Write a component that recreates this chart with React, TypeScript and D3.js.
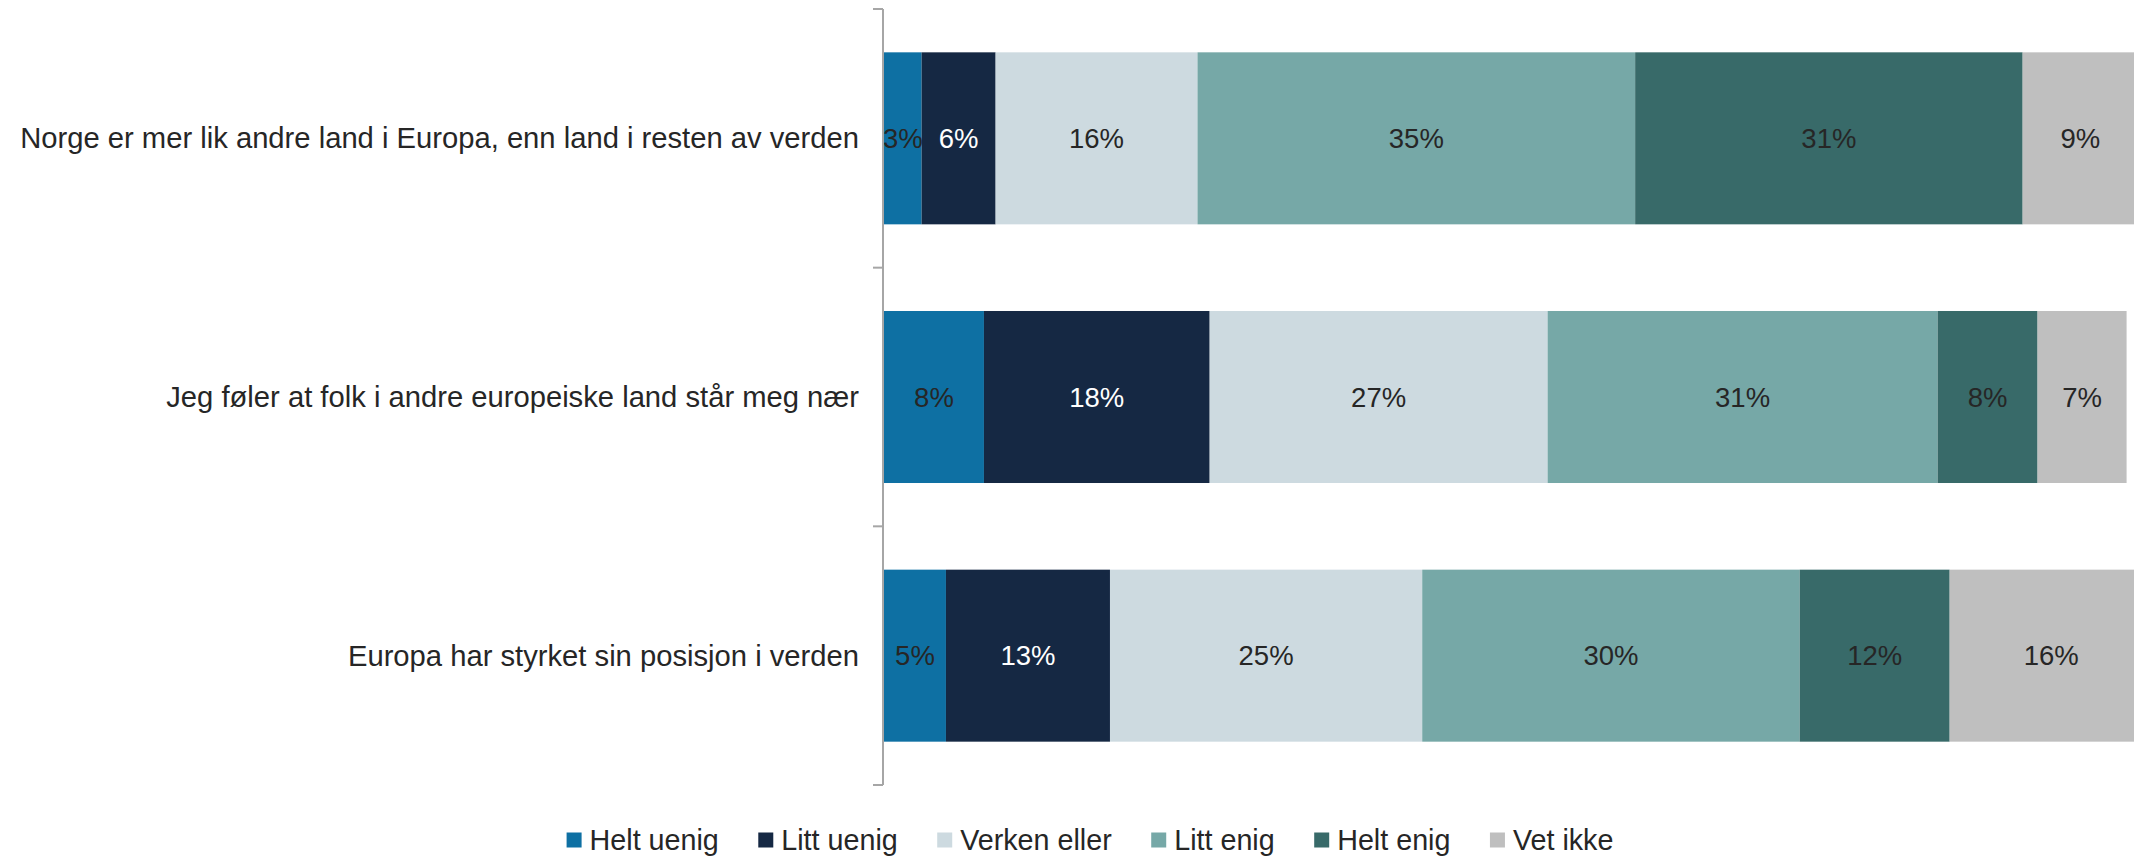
import React, { useEffect, useRef } from "react";
import * as d3 from "d3";

const categories = [
  "Norge er mer lik andre land i Europa, enn land i resten av verden",
  "Jeg føler at folk i andre europeiske land står meg nær",
  "Europa har styrket sin posisjon i verden",
];
const seriesNames = ["Helt uenig", "Litt uenig", "Verken eller", "Litt enig", "Helt enig", "Vet ikke"];
const heltUenig = [3.0, 7.97, 4.94];
const littUenig = [5.9, 18.0, 13.08];
const verkenEller = [16.1, 26.95, 24.9];
const littEnig = [34.9, 31.1, 30.1];
const heltEnig = [30.9, 7.97, 11.96];
const vetIkke = [9.2, 7.1, 16.2];
const seriesValues = [heltUenig, littUenig, verkenEller, littEnig, heltEnig, vetIkke];
const colors = ["#0E70A3", "#152843", "#CDDAE0", "#76A8A7", "#386A69", "#BFBFBF"];
const labelColors = ["#262626", "#FFFFFF", "#262626", "#262626", "#262626", "#262626"];

const W = 2134;
const H = 857;
const FONT = "'Liberation Sans', Arial, sans-serif";

export default function App() {
  const ref = useRef<SVGSVGElement | null>(null);

  useEffect(() => {
    document.body.style.margin = "0";
    document.body.style.overflow = "hidden";
    const svg = d3.select(ref.current);
    svg.selectAll("*").remove();

    const x = d3.scaleLinear().domain([0, 100]).range([884, 2138]);
    const y = d3
      .scaleBand<string>()
      .domain(categories)
      .range([9, 785])
      .paddingInner(0.335)
      .paddingOuter(0.1675);

    const rows = categories.map((c, i) => {
      let acc = 0;
      return seriesNames.map((s, j) => {
        const v = seriesValues[j][i];
        const seg = { cat: c, series: j, v, x0: acc, x1: acc + v };
        acc += v;
        return seg;
      });
    });

    const g = svg.append("g");
    rows.forEach((segs) => {
      segs.forEach((s) => {
        g.append("rect")
          .attr("x", x(s.x0))
          .attr("y", y(s.cat)!)
          .attr("width", x(s.x1) - x(s.x0))
          .attr("height", y.bandwidth())
          .attr("fill", colors[s.series]);
        g.append("text")
          .attr("x", (x(s.x0) + x(s.x1)) / 2)
          .attr("y", y(s.cat)! + y.bandwidth() / 2)
          .attr("text-anchor", "middle")
          .attr("dominant-baseline", "central")
          .attr("font-family", FONT)
          .attr("font-size", 27.5)
          .attr("fill", labelColors[s.series])
          .text(d3.format(".0f")(s.v) + "%");
      });
    });

    // axis
    const axisX = 883;
    const tickVals = [
      y.range()[0],
      ...categories.slice(0, 2).map((c) => y(c)! + y.bandwidth() + (y.step() * y.paddingInner()) / 2),
      y.range()[1],
    ];
    const ax = svg.append("g");
    ax.append("line")
      .attr("x1", axisX)
      .attr("x2", axisX)
      .attr("y1", y.range()[0])
      .attr("y2", y.range()[1])
      .attr("stroke", "#A6A6A6")
      .attr("stroke-width", 2);
    tickVals.forEach((t) => {
      ax.append("line")
        .attr("x1", axisX - 10)
        .attr("x2", axisX)
        .attr("y1", t)
        .attr("y2", t)
        .attr("stroke", "#A6A6A6")
        .attr("stroke-width", 2);
    });
    categories.forEach((c) => {
      ax.append("text")
        .attr("x", 859)
        .attr("y", y(c)! + y.bandwidth() / 2)
        .attr("text-anchor", "end")
        .attr("dominant-baseline", "central")
        .attr("font-family", FONT)
        .attr("font-size", 29.2)
        .attr("fill", "#262626")
        .text(c);
    });

    // legend
    const lg = svg.append("g");
    const items = seriesNames.map((n, i) => {
      const it = lg.append("g");
      it.append("rect").attr("x", 0).attr("y", -7.5).attr("width", 15).attr("height", 15).attr("fill", colors[i]);
      const t = it
        .append("text")
        .attr("x", 23)
        .attr("y", 0)
        .attr("dominant-baseline", "central")
        .attr("font-family", FONT)
        .attr("font-size", 28.7)
        .attr("fill", "#262626")
        .text(n);
      const w = 23 + (t.node() as SVGTextElement).getComputedTextLength();
      return { it, w };
    });
    const gap = 39.5;
    const total = items.reduce((a, b) => a + b.w, 0) + gap * (items.length - 1);
    let cx = 1090 - total / 2;
    items.forEach(({ it, w }) => {
      it.attr("transform", `translate(${cx},840)`);
      cx += w + gap;
    });
  }, []);

  return <svg ref={ref} width={W} height={H} style={{ display: "block", background: "#fff" }} />;
}
